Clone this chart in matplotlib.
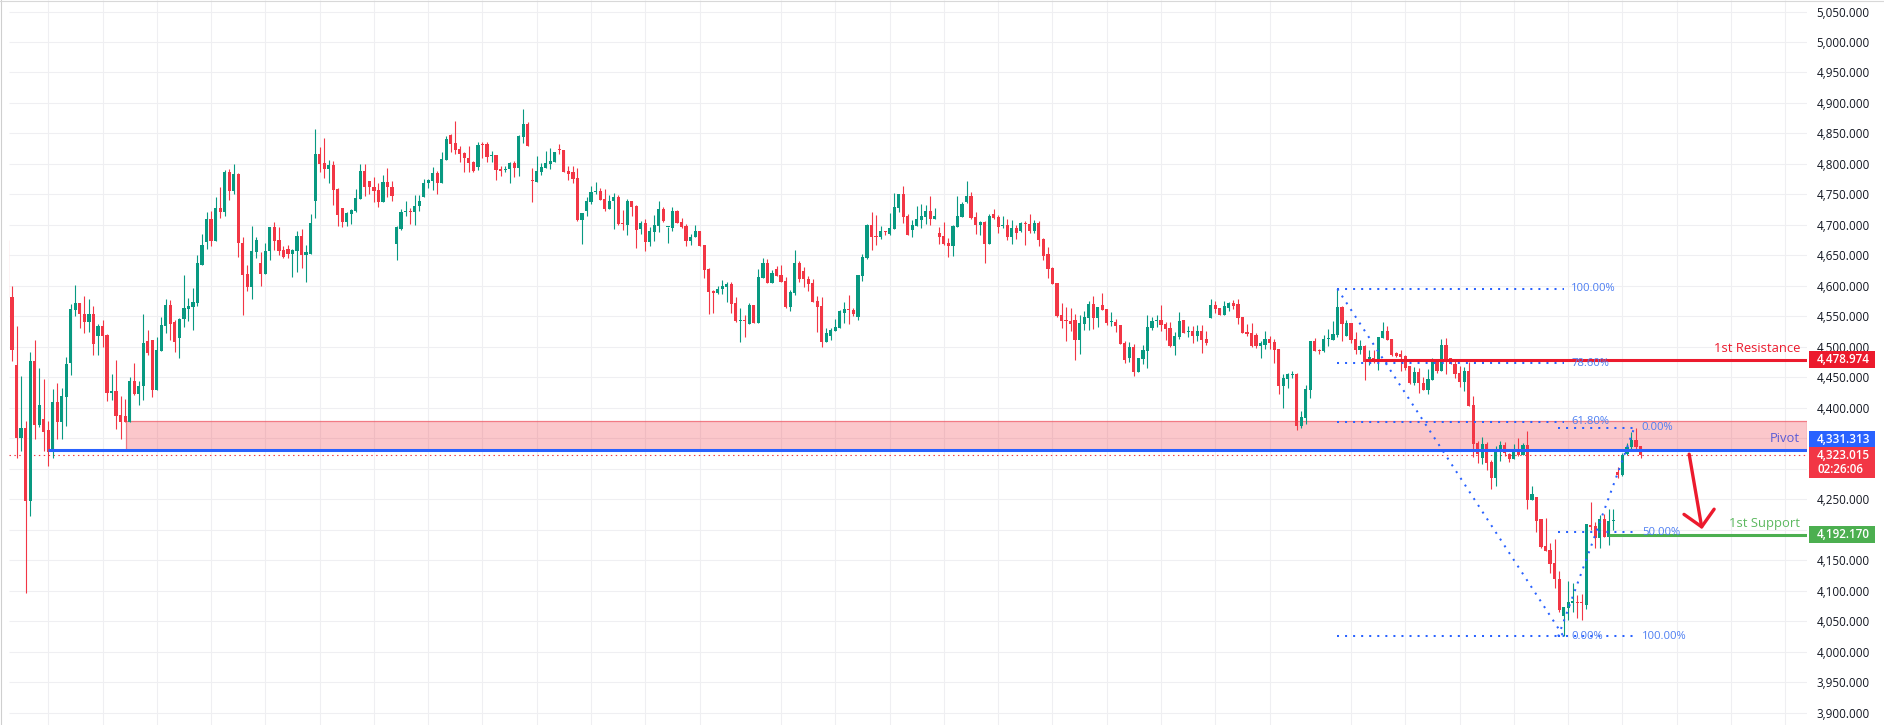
import numpy as np
import matplotlib.pyplot as plt
import matplotlib.transforms as mtransforms
from matplotlib.patches import Rectangle, FancyArrowPatch, ArrowStyle
from matplotlib.lines import Line2D

plt.rcParams['font.family'] = ['Open Sans', 'DejaVu Sans']

W, H, DPI = 1884, 725, 100

# OHLC, one value per bar (bar 0 is cut by the left edge)
opens = [
    4676, 4582, 4470, 4351, 4367, 4248, 4477, 4372, 4382, 4364,
    4328, 4410, 4376, 4418, 4473, 4561, 4572, 4554, 4541, 4554,
    4518, 4535, 4520, 4425, 4428, 4388, 4387, 4376, 4444, 4422,
    4435, 4509, 4511, 4430, 4494, 4535, 4569, 4540, 4515, 4545,
    4562, 4565, 4572, 4634, 4672, 4710, 4674, 4728, 4722, 4787,
    4756, 4784, 4671, 4619, 4599, 4656, 4637, 4620, 4657, 4696,
    4675, 4659, 4660, 4653, 4658, 4682, 4650, 4653, 4740, 4816,
    4802, 4792, 4798, 4759, 4727, 4705, 4718, 4723, 4743, 4788,
    4772, 4762, 4757, 4738, 4770, 4762, 4668, 4694, 4721, 4723,
    4721, 4731, 4745, 4768, 4772, 4785, 4769, 4807, 4848, 4834,
    4824, 4818, 4810, 4803, 4795, 4833, 4833, 4813, 4815, 4791,
    4790, 4792, 4802, 4793, 4845, 4866, 4773, 4770, 4787, 4793,
    4800, 4803, 4825, 4823, 4788, 4787, 4777, 4708, 4723, 4738,
    4754, 4755, 4742, 4726, 4739, 4746, 4703, 4700, 4739, 4731,
    4693, 4703, 4672, 4688, 4698, 4726, 4696, 4695, 4723, 4705,
    4698, 4674, 4680, 4690, 4667, 4627, 4591, 4588, 4595, 4598,
    4603, 4572, 4543, 4544, 4537, 4569, 4539, 4613, 4638, 4605,
    4628, 4618, 4608, 4565, 4588, 4638, 4624, 4611, 4605, 4575,
    4567, 4508, 4518, 4526, 4531, 4556, 4561, 4560, 4549, 4616,
    4646, 4700, 4682, 4680, 4689, 4685, 4693, 4728, 4750, 4715,
    4692, 4698, 4708, 4713, 4723, 4710, 4687, 4682, 4670, 4665,
    4697, 4713, 4738, 4747, 4713, 4700, 4705, 4669, 4718, 4713,
    4699, 4700, 4680, 4695, 4690, 4703, 4702, 4690, 4703, 4677,
    4652, 4629, 4605, 4552, 4543, 4542, 4544, 4511, 4538, 4547,
    4570, 4547, 4568, 4562, 4540, 4541, 4536, 4506, 4482, 4500,
    4459, 4480, 4493, 4531, 4543, 4544, 4538, 4531, 4501, 4516,
    4544, 4525, 4526, 4518, 4526, 4513, 4547, 4569, 4564, 4552,
    4564, 4572, 4570, 4549, 4524, 4523, 4519, 4501, 4503, 4513,
    4508, 4496, 4436, 4447, 4454, 4455, 4370, 4383, 4429, 4510,
    4495, 4493, 4513, 4511, 4519, 4565, 4518, 4539, 4513, 4495,
    4501, 4475, 4482, 4475, 4515, 4526, 4513, 4490, 4488, 4485,
    4469, 4440, 4459, 4441, 4429, 4446, 4480, 4460, 4503, 4482,
    4472, 4457, 4442, 4460, 4405, 4342, 4318, 4341, 4311, 4285,
    4328, 4339, 4324, 4316, 4331, 4323, 4339, 4249, 4254, 4217,
    4173, 4167, 4146, 4119, 4059, 4072, 4080, 4082, 4081, 4076,
    4208, 4206, 4186, 4218, 4188, 4214, 4295, 4290, 4324, 4336,
    4347, 4337,
]
highs = [
    4676, 4600, 4535, 4452, 4378, 4492, 4511, 4465, 4447, 4378,
    4431, 4441, 4432, 4483, 4570, 4601, 4572, 4583, 4578, 4567,
    4538, 4544, 4521, 4456, 4478, 4419, 4414, 4450, 4474, 4444,
    4554, 4528, 4511, 4516, 4549, 4578, 4577, 4544, 4547, 4618,
    4580, 4597, 4651, 4685, 4721, 4723, 4746, 4762, 4790, 4792,
    4800, 4785, 4681, 4635, 4698, 4681, 4655, 4671, 4697, 4705,
    4697, 4666, 4667, 4661, 4690, 4694, 4667, 4718, 4857, 4828,
    4843, 4806, 4805, 4761, 4728, 4721, 4726, 4759, 4800, 4800,
    4772, 4778, 4769, 4782, 4793, 4772, 4698, 4726, 4739, 4728,
    4749, 4749, 4775, 4775, 4795, 4788, 4820, 4846, 4849, 4870,
    4829, 4820, 4829, 4805, 4836, 4836, 4836, 4821, 4815, 4797,
    4797, 4803, 4805, 4848, 4890, 4869, 4793, 4813, 4802, 4821,
    4826, 4820, 4833, 4823, 4797, 4797, 4793, 4720, 4746, 4764,
    4770, 4761, 4759, 4749, 4752, 4749, 4725, 4742, 4739, 4733,
    4706, 4710, 4697, 4716, 4739, 4729, 4697, 4729, 4724, 4711,
    4701, 4685, 4700, 4690, 4667, 4629, 4593, 4600, 4610, 4606,
    4606, 4582, 4564, 4552, 4572, 4569, 4628, 4646, 4644, 4626,
    4633, 4634, 4614, 4593, 4659, 4641, 4631, 4616, 4611, 4583,
    4582, 4531, 4531, 4546, 4560, 4574, 4585, 4564, 4618, 4652,
    4701, 4721, 4716, 4698, 4690, 4720, 4752, 4751, 4764, 4718,
    4708, 4731, 4734, 4733, 4747, 4728, 4697, 4705, 4679, 4700,
    4747, 4738, 4772, 4754, 4721, 4707, 4707, 4718, 4726, 4716,
    4715, 4710, 4708, 4700, 4705, 4706, 4718, 4708, 4706, 4679,
    4664, 4631, 4605, 4572, 4565, 4564, 4554, 4552, 4559, 4575,
    4583, 4565, 4588, 4562, 4557, 4546, 4536, 4510, 4508, 4505,
    4482, 4503, 4552, 4549, 4552, 4569, 4541, 4541, 4524, 4557,
    4544, 4534, 4534, 4536, 4536, 4526, 4578, 4575, 4564, 4575,
    4574, 4577, 4579, 4549, 4538, 4539, 4523, 4510, 4526, 4518,
    4513, 4496, 4455, 4457, 4460, 4457, 4395, 4438, 4510, 4515,
    4497, 4519, 4529, 4542, 4595, 4567, 4544, 4539, 4524, 4511,
    4503, 4495, 4495, 4516, 4541, 4534, 4513, 4492, 4495, 4487,
    4469, 4467, 4465, 4451, 4464, 4482, 4480, 4513, 4515, 4482,
    4480, 4469, 4467, 4475, 4419, 4346, 4352, 4344, 4314, 4337,
    4346, 4344, 4326, 4341, 4350, 4342, 4362, 4272, 4254, 4218,
    4219, 4178, 4185, 4132, 4074, 4116, 4113, 4093, 4095, 4209,
    4245, 4213, 4224, 4226, 4234, 4234, 4303, 4326, 4343, 4360,
    4367, 4337,
]
lows = [
    4581, 4476, 4318, 4329, 4097, 4222, 4349, 4369, 4330, 4305,
    4318, 4349, 4349, 4370, 4454, 4551, 4531, 4522, 4524, 4486,
    4487, 4499, 4412, 4413, 4365, 4349, 4376, 4376, 4421, 4404,
    4413, 4486, 4417, 4430, 4494, 4523, 4511, 4492, 4482, 4532,
    4543, 4528, 4567, 4634, 4661, 4666, 4674, 4712, 4715, 4741,
    4751, 4648, 4553, 4592, 4579, 4645, 4600, 4620, 4643, 4659,
    4651, 4645, 4646, 4615, 4623, 4629, 4607, 4652, 4712, 4787,
    4777, 4768, 4732, 4699, 4697, 4698, 4702, 4721, 4743, 4747,
    4751, 4737, 4730, 4738, 4746, 4740, 4643, 4692, 4715, 4702,
    4700, 4723, 4745, 4761, 4757, 4750, 4769, 4807, 4819, 4816,
    4803, 4786, 4786, 4787, 4790, 4810, 4803, 4803, 4773, 4781,
    4786, 4768, 4778, 4781, 4835, 4830, 4737, 4770, 4782, 4793,
    4792, 4803, 4816, 4787, 4774, 4768, 4706, 4668, 4715, 4734,
    4751, 4741, 4723, 4726, 4693, 4700, 4692, 4684, 4715, 4662,
    4685, 4657, 4665, 4674, 4688, 4705, 4670, 4690, 4703, 4695,
    4665, 4667, 4680, 4665, 4613, 4554, 4556, 4587, 4587, 4574,
    4555, 4541, 4508, 4516, 4537, 4539, 4539, 4613, 4605, 4605,
    4616, 4606, 4564, 4559, 4585, 4606, 4598, 4592, 4573, 4524,
    4500, 4508, 4511, 4526, 4531, 4539, 4537, 4551, 4544, 4608,
    4644, 4659, 4667, 4677, 4683, 4683, 4693, 4721, 4703, 4684,
    4680, 4698, 4695, 4702, 4700, 4710, 4669, 4667, 4647, 4649,
    4697, 4713, 4736, 4710, 4685, 4683, 4638, 4669, 4710, 4687,
    4695, 4675, 4669, 4677, 4688, 4667, 4687, 4687, 4665, 4642,
    4613, 4603, 4549, 4531, 4510, 4526, 4479, 4488, 4528, 4528,
    4529, 4533, 4560, 4536, 4534, 4524, 4505, 4473, 4475, 4452,
    4459, 4472, 4465, 4528, 4533, 4526, 4511, 4500, 4487, 4513,
    4523, 4516, 4506, 4510, 4490, 4503, 4547, 4556, 4552, 4552,
    4559, 4562, 4537, 4523, 4518, 4500, 4498, 4482, 4497, 4497,
    4474, 4423, 4400, 4433, 4449, 4364, 4367, 4374, 4416, 4493,
    4488, 4492, 4501, 4511, 4516, 4510, 4518, 4506, 4488, 4488,
    4446, 4470, 4473, 4462, 4515, 4511, 4485, 4483, 4460, 4462,
    4439, 4437, 4424, 4429, 4423, 4446, 4457, 4460, 4456, 4472,
    4449, 4434, 4428, 4403, 4319, 4310, 4308, 4298, 4267, 4272,
    4313, 4321, 4311, 4316, 4321, 4323, 4234, 4249, 4196, 4170,
    4165, 4129, 4105, 4065, 4025, 4052, 4065, 4055, 4052, 4070,
    4200, 4170, 4170, 4188, 4175, 4200, 4285, 4289, 4322, 4330,
    4333, 4317,
]
closes = [
    4581, 4495, 4351, 4367, 4248, 4477, 4372, 4405, 4361, 4328,
    4410, 4376, 4419, 4472, 4562, 4572, 4554, 4541, 4554, 4504,
    4535, 4518, 4425, 4428, 4387, 4376, 4376, 4444, 4422, 4436,
    4506, 4490, 4430, 4495, 4536, 4569, 4538, 4508, 4546, 4564,
    4567, 4574, 4638, 4667, 4710, 4674, 4728, 4722, 4787, 4756,
    4784, 4671, 4618, 4599, 4657, 4675, 4620, 4657, 4696, 4674,
    4658, 4648, 4653, 4659, 4682, 4650, 4655, 4703, 4816, 4800,
    4792, 4798, 4758, 4716, 4705, 4720, 4724, 4744, 4788, 4762,
    4762, 4756, 4738, 4770, 4762, 4748, 4696, 4721, 4723, 4721,
    4731, 4739, 4769, 4774, 4785, 4769, 4808, 4841, 4833, 4823,
    4816, 4809, 4802, 4788, 4831, 4831, 4812, 4814, 4790, 4789,
    4792, 4802, 4793, 4846, 4866, 4830, 4772, 4788, 4795, 4802,
    4805, 4820, 4823, 4787, 4784, 4775, 4708, 4720, 4739, 4754,
    4755, 4741, 4726, 4739, 4746, 4702, 4702, 4739, 4729, 4692,
    4703, 4672, 4690, 4700, 4726, 4706, 4697, 4723, 4703, 4697,
    4674, 4680, 4690, 4665, 4626, 4590, 4588, 4595, 4600, 4603,
    4570, 4542, 4544, 4543, 4569, 4539, 4615, 4638, 4605, 4621,
    4616, 4606, 4565, 4590, 4638, 4611, 4611, 4603, 4573, 4565,
    4508, 4523, 4528, 4532, 4559, 4562, 4560, 4554, 4618, 4647,
    4700, 4681, 4681, 4690, 4688, 4695, 4729, 4750, 4713, 4684,
    4700, 4710, 4715, 4723, 4710, 4715, 4680, 4669, 4665, 4698,
    4715, 4734, 4747, 4711, 4700, 4705, 4669, 4715, 4711, 4697,
    4700, 4680, 4695, 4687, 4703, 4702, 4690, 4703, 4675, 4649,
    4628, 4603, 4551, 4542, 4542, 4538, 4511, 4539, 4549, 4570,
    4547, 4565, 4560, 4539, 4541, 4534, 4505, 4478, 4500, 4459,
    4482, 4495, 4533, 4542, 4544, 4536, 4529, 4501, 4518, 4543,
    4523, 4526, 4518, 4526, 4511, 4506, 4569, 4562, 4552, 4567,
    4572, 4567, 4547, 4523, 4521, 4501, 4501, 4506, 4513, 4506,
    4495, 4436, 4449, 4455, 4455, 4370, 4385, 4431, 4510, 4493,
    4494, 4513, 4514, 4521, 4565, 4538, 4539, 4511, 4495, 4501,
    4475, 4483, 4475, 4516, 4526, 4511, 4487, 4485, 4483, 4466,
    4440, 4459, 4440, 4430, 4447, 4480, 4460, 4503, 4480, 4472,
    4456, 4442, 4460, 4403, 4341, 4324, 4341, 4310, 4285, 4331,
    4339, 4326, 4316, 4331, 4323, 4339, 4249, 4259, 4214, 4171,
    4165, 4144, 4119, 4068, 4074, 4082, 4083, 4080, 4080, 4209,
    4204, 4186, 4218, 4188, 4214, 4216, 4290, 4323, 4336, 4348,
    4335, 4323.015,
]

price_ticks = list(range(3900, 5051, 50))
hidden_ticks = [4300, 4350]  # sit under the price boxes on the scale
grid_bars = [9, 21, 33, 45, 57, 69, 81, 93, 105, 117, 129, 141, 153, 171, 183,
             195, 207, 219, 231, 243, 255, 267, 279, 297, 309, 321, 333, 345,
             357, 369, 381, 393]

resistance = 4478.974
pivot = 4331.313
support = 4192.170
last_price = 4323.015
countdown = '02:26:06'
zone_top = 4378
zone_start = 26.3
pivot_start, resistance_start, support_start = 9, 300, 354

# fib tools: (bar start, bar end, price at 0%, price at 100%, levels)
fib_down = (294, 344, 4025, 4595, [1.0, 0.786, 0.618, 0.0])
fib_up = (342.8, 359.6, 4367, 4025, [1.0, 0.5, 0.0])
fib_down_diag = ((294, 4595), (344, 4025))
fib_up_diag = ((342.8, 4025), (359.6, 4367))
arrow_from, arrow_to = (371.75, 4324), (374.6, 4201)

GREEN, RED = '#089981', '#f23645'
RES_RED = '#ec1a2d'
BLUE = '#2962ff'
SUP_GREEN = '#4caf50'

x_lo, x_hi = 0.33, 397.8
y_lo, y_hi = 3879.8, 5068.9
ppu = H / (y_hi - y_lo)  # pixels per price unit

fig = plt.figure(figsize=(W / DPI, H / DPI), dpi=DPI)
ax = fig.add_axes([9 / W, 0, (1807 - 9) / W, 1])
ax.set_xlim(x_lo, x_hi)
ax.set_ylim(y_lo, y_hi)
for s in ax.spines.values():
    s.set_visible(False)
ax.set_xticks([])
ax.yaxis.tick_right()
ax.set_yticks(price_ticks)
ax.set_yticklabels(['' if t in hidden_ticks else f'{t:,.3f}' for t in price_ticks])
ax.tick_params(axis='y', length=0, pad=7, labelsize=8.4, labelcolor='#131722')

# grid
ax.hlines(price_ticks, x_lo, x_hi, color='#efeff2', lw=0.8, zorder=0)
ax.vlines(grid_bars, y_lo, y_hi, color='#efeff2', lw=0.8, zorder=0)

# zone and levels
ax.add_patch(Rectangle((zone_start, pivot), x_hi - zone_start, zone_top - pivot,
                       facecolor=(0.949, 0.212, 0.271, 0.28),
                       edgecolor=(0.93, 0.35, 0.40, 0.75), lw=0.9, zorder=1))
ax.axhline(last_price, color=RED, lw=0.8, ls=(0, (1.3, 3.1)), zorder=1.5)

# candles
o, hi, lo, c = (np.asarray(a, dtype=float) for a in (opens, highs, lows, closes))
idx = np.arange(len(c))
col = np.where(c >= o, GREEN, RED)
ax.vlines(idx, lo, hi, colors=col, lw=0.8, zorder=2)
ax.bar(idx, np.maximum(np.abs(c - o), 1.6), bottom=np.minimum(o, c), width=0.7,
       color=col, lw=0, zorder=3)

ax.hlines(pivot, pivot_start, x_hi, color=BLUE, lw=2.2, zorder=4)
ax.hlines(resistance, resistance_start, x_hi, color=RES_RED, lw=2.2, zorder=4)
ax.hlines(support, support_start, x_hi, color=SUP_GREEN, lw=2.2, zorder=4)

lbl_kw = dict(xycoords=('axes fraction', 'data'), textcoords='offset points',
              ha='right', va='center', fontsize=9.4)
ax.annotate('1st Resistance', (1, resistance), xytext=(-5, 8), color=RES_RED, **lbl_kw)
ax.annotate('Pivot', (1, pivot), xytext=(-5, 8), color='#5b5dd6', **lbl_kw)
ax.annotate('1st Support', (1, support), xytext=(-5, 8), color='#5cb85f', **lbl_kw)

# fibonacci tools
dot = dict(color=BLUE, lw=1.45, ls=(0, (1, 3)), zorder=5)
for x0, x1, p0, p100, levels in (fib_down, fib_up):
    for lv in levels:
        p = p0 + lv * (p100 - p0)
        ax.plot([x0, x1], [p, p], **dot)
        ax.annotate(f'{lv * 100:.2f}%', (x1, p), xytext=(5.5, 0),
                    textcoords='offset points', ha='left', va='center',
                    fontsize=8.1, color='#4d7ef2', zorder=6)
for (xa, ya), (xb, yb) in (fib_down_diag, fib_up_diag):
    ax.plot([xa, xb], [ya, yb], **dot)

# arrow
ax.add_patch(FancyArrowPatch(arrow_from, arrow_to,
                             arrowstyle=ArrowStyle('->', head_length=11, head_width=11),
                             color=RES_RED, lw=2.4, shrinkA=0, shrinkB=0,
                             mutation_scale=1, zorder=6))

# price scale boxes
trans = mtransforms.blended_transform_factory(fig.transFigure, ax.transData)
bx0, bw = 1809 / W, 66 / W
tx = 1817 / W


def scale_box(y_bottom, h_px, color):
    ax.add_patch(Rectangle((bx0, y_bottom), bw, h_px / ppu, transform=trans,
                           facecolor=color, lw=0, clip_on=False, zorder=10))


def scale_text(y, s):
    ax.text(tx, y, s, transform=trans, ha='left', va='center', color='white',
            fontsize=8.4, fontweight='semibold', clip_on=False, zorder=11)


scale_box(resistance - 8.3 / ppu, 16.6, RES_RED)
scale_text(resistance, f'{resistance:,.3f}')
scale_box(support - 8.3 / ppu, 16.6, SUP_GREEN)
scale_text(support, f'{support:,.3f}')
cur_top = last_price + 7.5 / ppu
scale_box(cur_top - 31 / ppu, 31, RED)
scale_text(last_price - 0.9 / ppu, f'{last_price:,.3f}')
scale_text(last_price - 15.2 / ppu, countdown)
scale_box(cur_top, 16.3, BLUE)
scale_text(cur_top + 8.2 / ppu, f'{pivot:,.3f}')

# thin frame on the top and left edges
fig.add_artist(Line2D([0.5 / W, 0.5 / W], [0, 1], transform=fig.transFigure,
                      color='#cfcfcf', lw=0.8))
fig.add_artist(Line2D([0, 1], [1 - 0.5 / H, 1 - 0.5 / H], transform=fig.transFigure,
                      color='#d8d8d8', lw=0.8))

fig.savefig('out.png', dpi=DPI)
